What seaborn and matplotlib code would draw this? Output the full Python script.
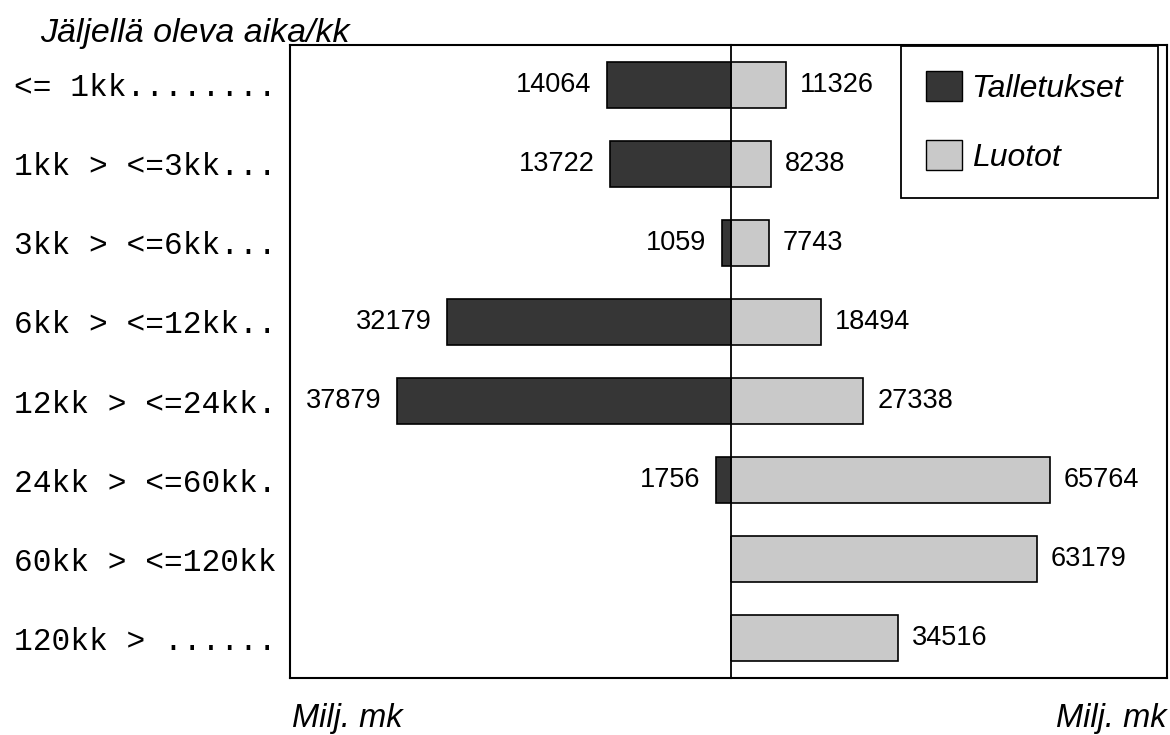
import numpy as np
import pandas as pd
import matplotlib
matplotlib.use('Agg')
import matplotlib.pyplot as plt
import seaborn as sns
from matplotlib.patches import Patch

# Data
categories = ['<= 1kk........', '1kk > <=3kk...', '3kk > <=6kk...', '6kk > <=12kk..',
              '12kk > <=24kk.', '24kk > <=60kk.', '60kk > <=120kk', '120kk > ......']
talletukset = [14064, 13722, 1059, 32179, 37879, 1756, 0, 0]
luotot = [11326, 8238, 7743, 18494, 27338, 65764, 63179, 34516]

dark = '#363636'
light = '#c9c9c9'

sns.set_theme(style='white')
plt.rcParams['font.family'] = ['Liberation Sans', 'DejaVu Sans']
plt.rcParams['text.color'] = 'black'
plt.rcParams['ytick.color'] = 'black'
plt.rcParams['ytick.labelcolor'] = 'black'

df = pd.DataFrame({'kat': categories, 'Talletukset': talletukset, 'Luotot': luotot})

fig = plt.figure(figsize=(11.7, 7.35), dpi=100)
bottom = 57 / 735
height = 633 / 735
axL = fig.add_axes([290 / 1170, bottom, 441 / 1170, height])
axR = fig.add_axes([731 / 1170, bottom, 436 / 1170, height])

# Vasen puoli: talletukset
sns.barplot(data=df, x='Talletukset', y='kat', ax=axL, color=dark, orient='h',
            width=0.58, edgecolor='black', linewidth=1.2, saturation=1)
axL.set_xlim(50000, 0)
labelsL = [str(v) if v > 0 else '' for v in talletukset]
axL.bar_label(axL.containers[0], labels=labelsL, padding=11, fontsize=19.5)

# Oikea puoli: luotot
sns.barplot(data=df, x='Luotot', y='kat', ax=axR, color=light, orient='h',
            width=0.58, edgecolor='black', linewidth=1.2, saturation=1)
axR.set_xlim(0, 90000)
axR.bar_label(axR.containers[0], labels=[str(v) for v in luotot], padding=10, fontsize=19.5)

for ax in (axL, axR):
    ax.set_xlabel('')
    ax.set_ylabel('')
    ax.set_xticks([])
    ax.tick_params(axis='y', length=0)
    for s in ax.spines.values():
        s.set_color('black')
        s.set_linewidth(1.5)

axL.spines['right'].set_visible(False)
axR.spines['left'].set_linewidth(1.3)
axR.set_yticks([])
axL.set_yticks(range(len(categories)))
axL.set_yticklabels(categories, fontfamily='Liberation Mono', fontsize=22.5)
axL.tick_params(axis='y', pad=10)

# Otsikot
fig.text(40 / 1170, 1 - 42 / 735, 'Jäljellä oleva aika/kk', fontsize=24.5,
         style='italic', va='baseline', ha='left')
fig.text(292 / 1170, 1 - 727 / 735, 'Milj. mk', fontsize=23.5, style='italic',
         va='baseline', ha='left')
fig.text(1167 / 1170, 1 - 727 / 735, 'Milj. mk', fontsize=23.5, style='italic',
         va='baseline', ha='right')

# Selite
handles = [Patch(facecolor=dark, edgecolor='black', label='Talletukset'),
           Patch(facecolor=light, edgecolor='black', label='Luotot')]
leg = fig.legend(handles=handles, loc='upper left',
                 bbox_to_anchor=(901 / 1170, 1 - 202 / 735, 257 / 1170, 156 / 735),
                 mode='expand', frameon=True, fancybox=False, edgecolor='black',
                 framealpha=1, prop={'style': 'italic', 'size': 23},
                 handlelength=1.13, handleheight=1.05, handletextpad=0.3,
                 borderpad=0.78, labelspacing=1.15, borderaxespad=0)
leg.get_frame().set_linewidth(1.3)

plt.savefig('out.png', dpi=100)
